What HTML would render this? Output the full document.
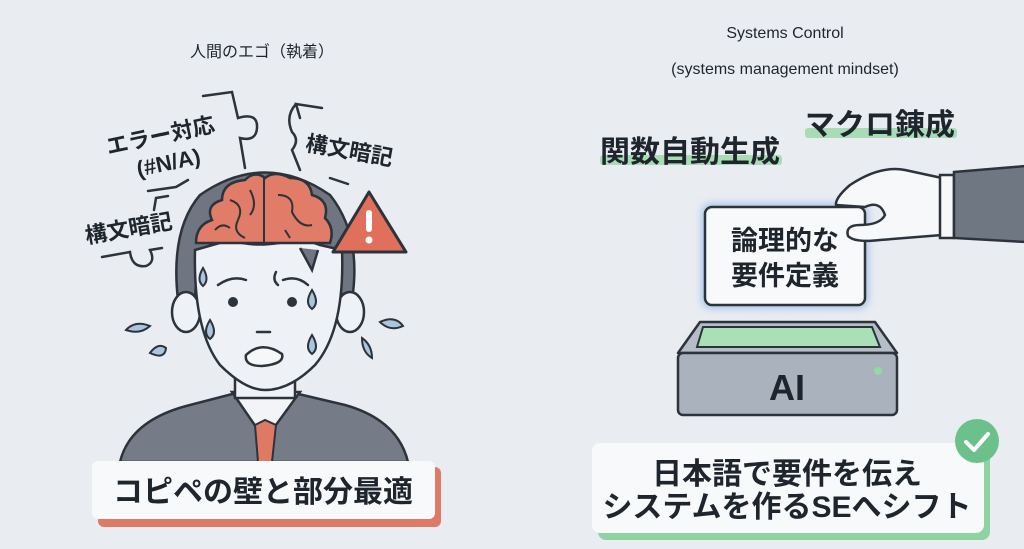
<!DOCTYPE html>
<html><head><meta charset="utf-8"><style>
html,body{margin:0;padding:0;background:#e9ecf1;}
svg{display:block;}
text{font-family:"Liberation Sans","Noto Sans CJK JP",sans-serif;fill:#1f252d;}
</style></head><body>
<svg width="1024" height="549" viewBox="0 0 1024 549" xmlns="http://www.w3.org/2000/svg">
<defs>
<radialGradient id="glow" cx="50%" cy="100%" r="70%"><stop offset="0" stop-color="#bfe6c8" stop-opacity="0.9"/><stop offset="1" stop-color="#e9ecf1" stop-opacity="0"/></radialGradient>
<filter id="bl" x="-20%" y="-20%" width="140%" height="140%"><feGaussianBlur stdDeviation="4"/></filter>
</defs>
<rect width="1024" height="549" fill="#e9ecf1"/>

<!-- LEFT -->
<text x="262" y="57" font-size="16" text-anchor="middle" fill="#333">人間のエゴ（執着）</text>

<!-- puzzle lines -->
<g fill="none" stroke="#2c333b" stroke-width="2.5" stroke-linecap="round">
<path d="M203 96 L232 92 L238 118 Q258 112 257 128 Q256 142 240 138 L245 168"/>
<path d="M300 118 L296 104 L322 108 M296 104 Q285 116 292 132 Q300 140 292 150 L300 170"/>
<path d="M148 191 L176 187 L188 180 M168 196 L156 198 L154 210"/>
<path d="M102 257 L130 252 Q132 268 146 266 Q156 262 150 250 L162 248"/>
<path d="M330 178 L348 184"/>
</g>

<!-- hair -->
<path d="M178 300 Q170 230 200 195 Q265 150 330 195 Q362 235 352 300 L335 290 Q330 250 310 245 L318 268 L290 243 L210 245 Q196 262 195 300 Z" fill="#6f7681" stroke="#2c333b" stroke-width="2.5"/>
<!-- ears -->
<ellipse cx="186" cy="312" rx="14" ry="20" fill="#eef1f5" stroke="#2c333b" stroke-width="2.5"/>
<ellipse cx="350" cy="312" rx="14" ry="20" fill="#eef1f5" stroke="#2c333b" stroke-width="2.5"/>
<!-- suit -->
<path d="M120 462 Q130 420 190 405 L240 392 L290 392 L345 405 Q398 420 408 462 Z" fill="#757c87" stroke="#2c333b" stroke-width="2.5"/>
<path d="M232 392 L265 440 L300 392 Z" fill="#f2f4f7" stroke="#2c333b" stroke-width="2.5"/>
<path d="M255 425 L265 420 L276 425 L272 462 L258 462 Z" fill="#de7a63" stroke="#2c333b" stroke-width="2"/>
<!-- neck & face -->
<rect x="235" y="370" width="60" height="28" fill="#eef1f5" stroke="#2c333b" stroke-width="2.5"/>
<path d="M195 250 Q193 330 220 365 Q245 390 265 390 Q290 390 315 365 Q345 330 342 250 L320 245 L300 238 Q260 250 230 240 Z" fill="#eef1f5" stroke="#2c333b" stroke-width="2.5"/>
<path d="M300 248 L312 270 L318 250" fill="#6f7681" stroke="#2c333b" stroke-width="2.5"/>
<!-- face details -->
<g fill="none" stroke="#2c333b" stroke-width="2.5" stroke-linecap="round">
<path d="M218 285 Q232 275 246 280"/><path d="M283 280 Q297 275 308 285"/><path d="M276 272 Q272 280 278 285"/>
<path d="M257 332 L270 332"/>
</g>
<circle cx="233" cy="302" r="5" fill="#2c333b"/><circle cx="292" cy="302" r="5" fill="#2c333b"/>
<path d="M246 355 Q262 340 282 354 Q285 364 262 366 Q244 366 246 355 Z" fill="#f6f7f9" stroke="#2c333b" stroke-width="2.5"/>
<!-- drops -->
<g fill="#a9c6de" stroke="#2c333b" stroke-width="2">
<path d="M203 268 Q196 280 203 286 Q210 280 203 268 Z"/>
<path d="M312 290 Q304 303 312 309 Q320 303 312 290 Z"/>
<path d="M210 320 Q202 333 210 339 Q218 333 210 320 Z"/>
<path d="M312 335 Q304 348 312 354 Q320 348 312 335 Z"/>
<path d="M126 330 Q135 320 150 326 Q140 335 126 330 Z"/>
<path d="M150 353 Q158 342 166 348 Q165 360 150 353 Z"/>
<path d="M380 322 Q395 315 403 326 Q390 332 380 322 Z"/>
<path d="M362 338 Q372 345 372 358 Q362 352 362 338 Z"/>
</g>
<!-- brain -->
<path d="M196 243 Q196 225 212 220 Q205 205 222 200 Q222 182 245 180 Q255 170 265 178 Q275 170 290 178 Q310 178 312 195 Q330 200 325 218 Q335 228 330 243 Z" fill="#e07c67" stroke="#2c333b" stroke-width="2.5"/>
<g fill="none" stroke="#2c333b" stroke-width="2">
<path d="M264 178 L264 243"/><path d="M230 200 Q245 205 238 220 Q232 232 245 238"/><path d="M250 190 Q258 205 250 215"/><path d="M278 195 Q295 195 292 212 Q300 228 312 225"/><path d="M285 230 L290 238"/><path d="M215 230 Q222 222 230 228"/>
</g>
<!-- warning -->
<path d="M369 192 L406 252 L333 252 Z" fill="#e0705c" stroke="#2c333b" stroke-width="3" stroke-linejoin="round"/>
<rect x="366" y="210" width="6" height="22" rx="3" fill="#fff"/><circle cx="369" cy="240" r="3.5" fill="#fff"/>

<!-- labels -->
<text x="162" y="143" font-size="22" font-weight="bold" text-anchor="middle" transform="rotate(-12 162 143)">エラー対応</text>
<text x="170" y="170" font-size="22" font-weight="bold" text-anchor="middle" transform="rotate(-12 170 170)">(#N/A)</text>
<text x="130" y="236" font-size="22" font-weight="bold" text-anchor="middle" transform="rotate(-10 130 236)">構文暗記</text>
<text x="348" y="158" font-size="22" font-weight="bold" text-anchor="middle" transform="rotate(10 348 158)">構文暗記</text>

<!-- bottom left box -->
<rect x="98" y="467" width="343" height="60" rx="6" fill="#df7a67"/>
<rect x="92" y="461" width="343" height="58" rx="6" fill="#f8f9fb"/>
<text x="263" y="502" font-size="30" font-weight="bold" text-anchor="middle">コピペの壁と部分最適</text>

<!-- RIGHT -->
<text x="785" y="38" font-size="16" text-anchor="middle" fill="#333">Systems Control</text>
<text x="785" y="74" font-size="16" text-anchor="middle" fill="#333">(systems management mindset)</text>

<rect x="600" y="155" width="182" height="10" rx="3" fill="#a8dcb4"/>
<text x="690" y="162" font-size="30" font-weight="bold" text-anchor="middle">関数自動生成</text>
<rect x="805" y="128" width="152" height="10" rx="3" fill="#a8dcb4"/>
<text x="880" y="135" font-size="30" font-weight="bold" text-anchor="middle">マクロ錬成</text>

<!-- glow -->
<path d="M705 300 L865 300 L890 340 L680 340 Z" fill="url(#glow)"/>
<!-- AI box -->
<path d="M700 322 L875 322 L897 353 L678 353 Z" fill="#b5bdc7" stroke="#2c333b" stroke-width="2.5" stroke-linejoin="round"/>
<path d="M703 327 L872 327 L880 347 L697 347 Z" fill="#a9e0b5" stroke="#2c333b" stroke-width="2"/>
<rect x="678" y="353" width="219" height="62" rx="5" fill="#a9b2bd" stroke="#2c333b" stroke-width="2.5"/>
<circle cx="878" cy="371" r="4" fill="#8fdba0"/>
<text x="787" y="400" font-size="36" font-weight="bold" text-anchor="middle" fill="#2a3038">AI</text>

<!-- card -->
<rect x="702" y="204" width="166" height="104" rx="8" fill="#9ec0ec" filter="url(#bl)"/>
<rect x="705" y="207" width="160" height="98" rx="7" fill="#f7f9fb" stroke="#2c333b" stroke-width="2.5"/>
<text x="785" y="250" font-size="27" font-weight="bold" text-anchor="middle">論理的な</text>
<text x="785" y="285" font-size="27" font-weight="bold" text-anchor="middle">要件定義</text>

<!-- hand -->
<path d="M942 178 L905 170 Q880 165 850 185 Q835 198 836 205 L865 207 Q880 200 885 215 Q880 225 860 225 Q845 225 848 236 Q855 243 880 240 L942 235 Z" fill="#f6f8fa" stroke="#2c333b" stroke-width="2.5" stroke-linejoin="round"/>
<rect x="940" y="175" width="14" height="63" fill="#f6f8fa" stroke="#2c333b" stroke-width="2.5"/>
<path d="M954 172 L1026 166 L1026 242 L954 238 Z" fill="#6f7782" stroke="#2c333b" stroke-width="2.5"/>

<!-- bottom right box -->
<rect x="598" y="450" width="392" height="90" rx="8" fill="#8fd3a0"/>
<rect x="592" y="443" width="392" height="90" rx="8" fill="#f8f9fb"/>
<text x="787" y="484" font-size="30" font-weight="bold" text-anchor="middle">日本語で要件を伝え</text>
<text x="787" y="517" font-size="30" font-weight="bold" text-anchor="middle">システムを作るSEへシフト</text>
<circle cx="977" cy="441" r="22" fill="#6cc18a"/>
<path d="M966 442 L974 450 L988 434" fill="none" stroke="#fff" stroke-width="4" stroke-linecap="round" stroke-linejoin="round"/>
</svg>
</body></html>
